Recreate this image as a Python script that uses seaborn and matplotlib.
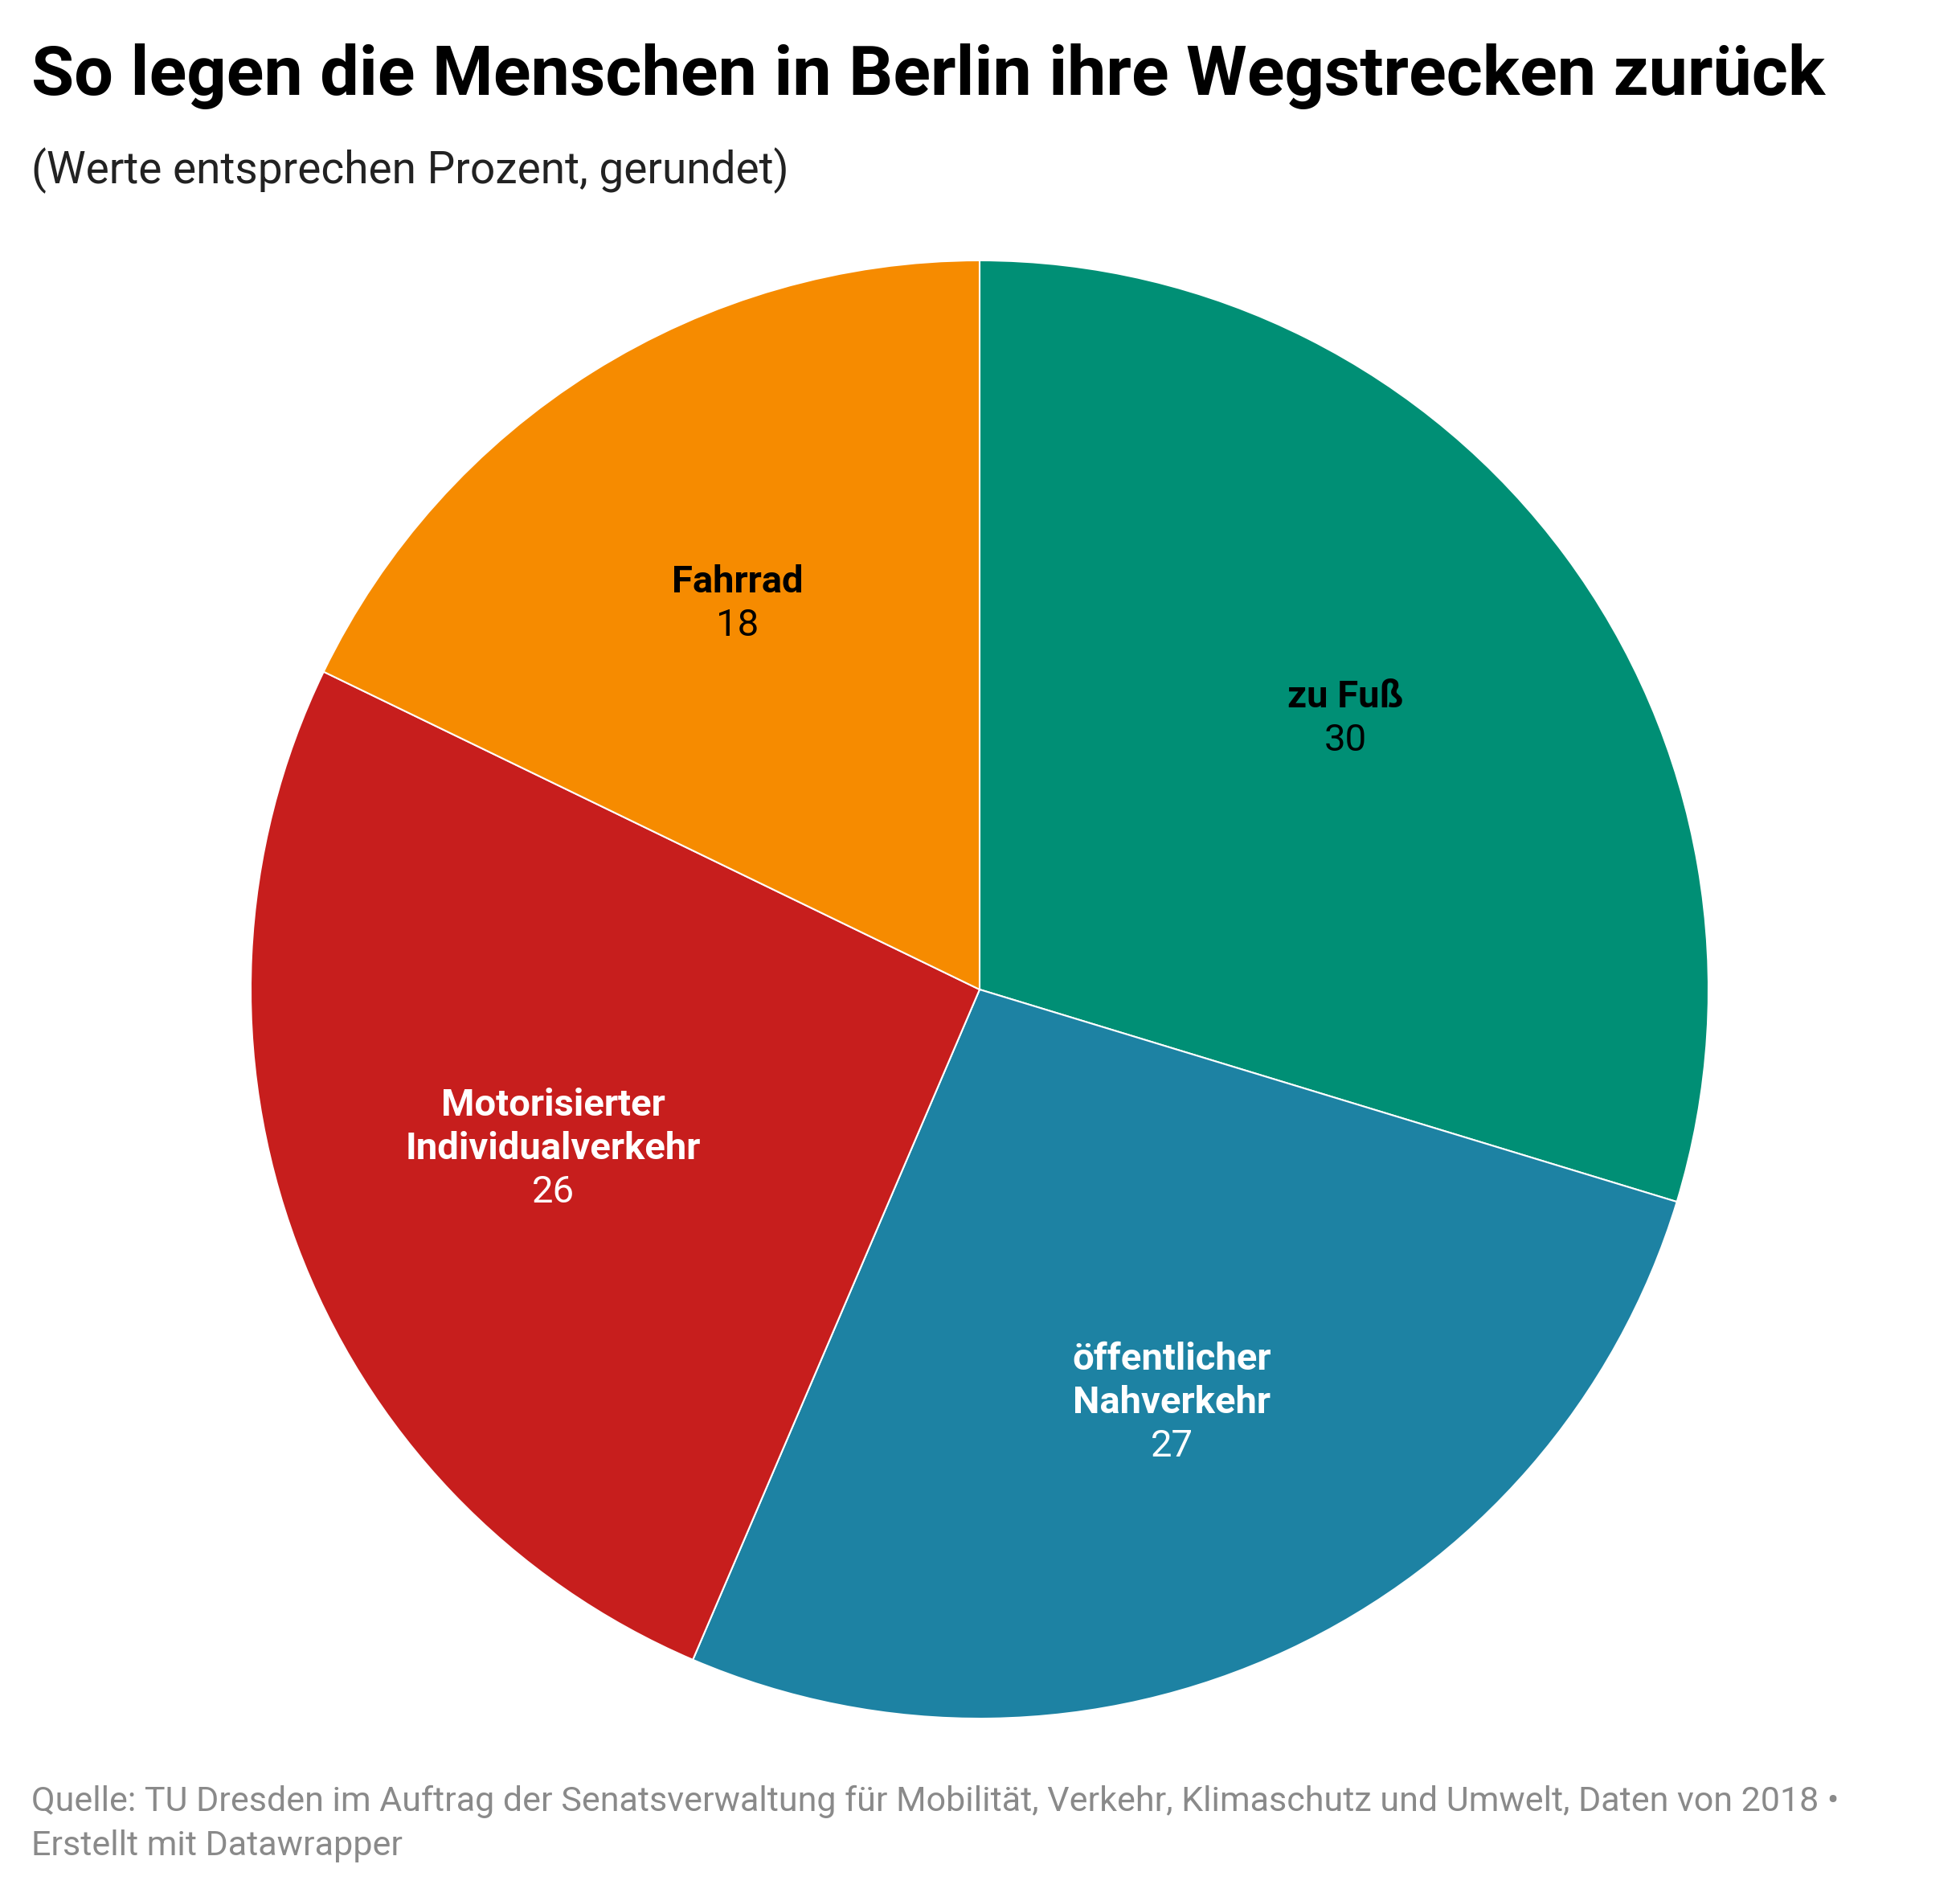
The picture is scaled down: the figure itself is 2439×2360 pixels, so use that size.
import numpy as np
import matplotlib
matplotlib.use("Agg")
import matplotlib.pyplot as plt
import seaborn as sns

categories = ["zu Fuß", "öffentlicher\nNahverkehr", "Motorisierter\nIndividualverkehr", "Fahrrad"]
values = [30, 27, 26, 18]
colors = ["#008f75", "#1d82a3", "#c71e1d", "#f68b00"]
label_colors = ["#000000", "#ffffff", "#ffffff", "#000000"]

title = "So legen die Menschen in Berlin ihre Wegstrecken zurück"
subtitle = "(Werte entsprechen Prozent, gerundet)"
footer = ("Quelle: TU Dresden im Auftrag der Senatsverwaltung für Mobilität, Verkehr, Klimaschutz und Umwelt, Daten von 2018 •\n"
          "Erstellt mit Datawrapper")

sns.set_theme(style="white")
plt.rcParams['font.family'] = ['Roboto', 'DejaVu Sans']

W, H = 2439, 2360
fig = plt.figure(figsize=(W / 100, H / 100), dpi=100)
fig.patch.set_facecolor("white")

cx, cy, r = 1219, 1231, 907
ax = fig.add_axes([(cx - r) / W, (H - cy - r) / H, 2 * r / W, 2 * r / H])
palette = sns.color_palette(colors)
wedges, _ = ax.pie(values, colors=palette, startangle=90, counterclock=False,
                   radius=1, wedgeprops=dict(edgecolor="white", linewidth=1.5))
ax.set_xlim(-1, 1)
ax.set_ylim(-1, 1)
ax.set_aspect("equal")
ax.axis("off")

line = 54 / r
fs = 34
for w, name, val, tc in zip(wedges, categories, values, label_colors):
    mid = np.deg2rad((w.theta1 + w.theta2) / 2)
    x, y = 0.625 * np.cos(mid), 0.625 * np.sin(mid)
    lines = name.split("\n")
    n = len(lines) + 1
    top = y + (n - 1) / 2 * line
    for i, ln in enumerate(lines):
        ax.text(x, top - i * line, ln, ha="center", va="center", fontsize=fs,
                fontweight="bold", color=tc)
    ax.text(x, top - len(lines) * line, str(val), ha="center", va="center",
            fontsize=fs, color=tc)

fig.text(39 / W, 1 - 118 / H, title, fontsize=62.2, fontweight="bold", color="#000000",
         ha="left", va="baseline")
fig.text(39 / W, 1 - 228 / H, subtitle, fontsize=39.6, color="#222222",
         ha="left", va="baseline")
fig.text(39 / W, 1 - 2308 / H, footer, fontsize=31, color="#8a8a8a",
         ha="left", va="baseline", linespacing=1.45)

fig.savefig("out.png", dpi=100, facecolor="white")
